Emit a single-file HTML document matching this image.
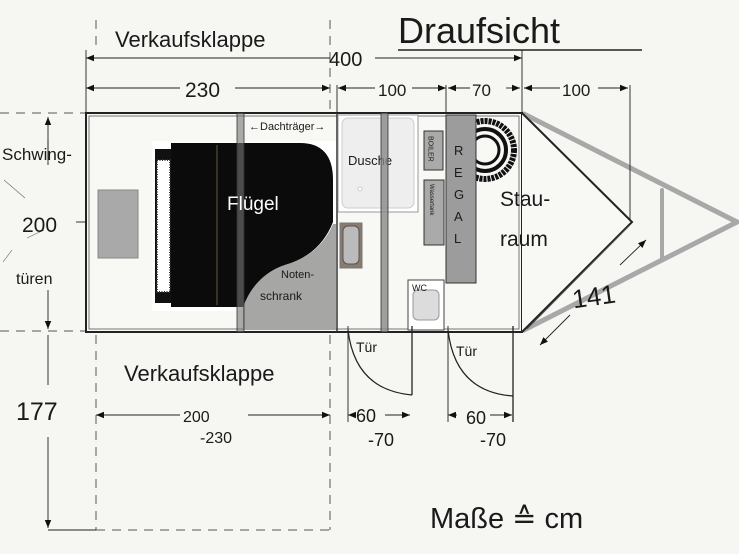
<!DOCTYPE html>
<html><head><meta charset="utf-8"><style>
html,body{margin:0;padding:0;background:#f6f6f2;}
svg{display:block}
text{font-family:"Liberation Sans",sans-serif;fill:#1a1a1a;}
</style></head><body>
<svg width="739" height="554" viewBox="0 0 739 554" xmlns="http://www.w3.org/2000/svg">
<defs>
<marker id="a" viewBox="0 0 10 10" refX="10" refY="5" markerWidth="9" markerHeight="9" orient="auto-start-reverse"><path d="M0,1 L10,5 L0,9 z" fill="#111"/></marker>
</defs>
<rect width="739" height="554" fill="#f6f6f2"/>
<g stroke="#a8a8a8" stroke-width="5" fill="none" stroke-linecap="round">
<line x1="524" y1="114" x2="737" y2="222"/>
<line x1="524" y1="330" x2="737" y2="222"/>
<line x1="662" y1="190" x2="662" y2="260" stroke-width="4"/>
</g>
<g stroke="#555" stroke-width="1" stroke-dasharray="9,7" fill="none">
<line x1="0" y1="113" x2="86" y2="113"/>
<line x1="0" y1="331" x2="86" y2="331"/>
<line x1="96" y1="335" x2="96" y2="530"/>
<line x1="330" y1="335" x2="330" y2="530"/>
<line x1="96" y1="530" x2="330" y2="530"/>
<line x1="96" y1="20" x2="96" y2="50"/>
<line x1="330" y1="20" x2="330" y2="110"/>
</g>
<rect x="86" y="113" width="436" height="219" fill="#f8f8f5" stroke="#222" stroke-width="2"/>
<rect x="89" y="116" width="430" height="213" fill="none" stroke="#555" stroke-width="0.8"/>
<path d="M522,113 L632,222 L522,332" fill="#f8f8f5" stroke="#222" stroke-width="2"/>
<path d="M527,329 L629,226" stroke="#555" stroke-width="1" fill="none"/>
<rect x="98" y="190" width="40" height="68" fill="#a9a9a9" stroke="#888"/>
<rect x="152" y="141" width="186" height="170" fill="#fff"/>
<rect x="155" y="149" width="17" height="154" fill="#111"/>
<rect x="157" y="160" width="13" height="132" fill="#fff" stroke="#333" stroke-width="2" stroke-dasharray="1,1.5"/>
<path d="M171,143 L300,143 Q333,143 333,180 L333,222 Q320,255 285,265 Q255,275 245,307 L171,307 z" fill="#0b0b0b"/>
<line x1="217" y1="145" x2="217" y2="305" stroke="#8a7a60" stroke-width="0.7"/>
<path d="M333,224 L336,224 L336,330 L243,330 L243,307 Q255,275 285,265 Q320,255 333,224 z" fill="#a6a6a4"/>
<text x="281" y="278" font-size="11">Noten-</text>
<text x="260" y="300" font-size="12">schrank</text>
<rect x="237" y="113" width="7" height="219" fill="#777" fill-opacity="0.6" stroke="#333" stroke-width="0.8"/>
<text x="227" y="210" font-size="19" style="fill:#fff">Flügel</text>
<line x1="337" y1="113" x2="337" y2="332" stroke="#333" stroke-width="1.5"/>
<rect x="338" y="115" width="80" height="97" fill="#fff" stroke="#999"/>
<rect x="342" y="118" width="72" height="90" rx="6" fill="#eeeeee" stroke="#ccc"/>
<circle cx="360" cy="189" r="2" fill="#fff" stroke="#ccc"/>
<text x="348" y="165" font-size="13">Dusche</text>
<rect x="381" y="113" width="7" height="219" fill="#888" fill-opacity="0.8" stroke="#333" stroke-width="0.8"/>
<rect x="340" y="223" width="22" height="45" fill="#8a7a70" stroke="#777"/>
<rect x="343" y="226" width="16" height="38" rx="5" fill="#bbb" stroke="#555"/>
<circle cx="485" cy="150" r="29" fill="none" stroke="#111" stroke-width="6" stroke-dasharray="3,1"/>
<circle cx="485" cy="150" r="21" fill="none" stroke="#111" stroke-width="4"/>
<circle cx="485" cy="150" r="14" fill="#f8f8f5" stroke="#111" stroke-width="3"/>
<rect x="424" y="131" width="19" height="39" fill="#aaa" stroke="#333"/>
<text x="430" y="136" font-size="7" writing-mode="tb">BOILER</text>
<rect x="424" y="180" width="20" height="65" fill="#aaa" stroke="#333"/>
<text x="431" y="184" font-size="6" writing-mode="tb">Wassertank</text>
<rect x="446" y="115" width="30" height="168" fill="#9c9c9c" stroke="#333"/>
<text x="454" y="155" font-size="13">R</text><text x="454" y="177" font-size="13">E</text><text x="454" y="199" font-size="13">G</text><text x="454" y="221" font-size="13">A</text><text x="454" y="243" font-size="13">L</text>
<rect x="408" y="280" width="36" height="50" fill="#fff" stroke="#444"/>
<rect x="413" y="290" width="26" height="30" rx="5" fill="#dcdcdc" stroke="#999"/>
<text x="412" y="291" font-size="9">WC</text>
<text x="500" y="206" font-size="21">Stau-</text>
<text x="500" y="246" font-size="21">raum</text>
<text x="249" y="130" font-size="11" fill="#333">←Dachträger→</text>
<g stroke="#222" stroke-width="0.9" fill="none">
<line x1="86" y1="58" x2="330" y2="58" marker-start="url(#a)"/>
<line x1="375" y1="58" x2="522" y2="58" marker-end="url(#a)"/>
<line x1="86" y1="88" x2="180" y2="88" marker-start="url(#a)"/>
<line x1="235" y1="88" x2="330" y2="88" marker-end="url(#a)"/>
<line x1="338" y1="88" x2="375" y2="88" marker-start="url(#a)"/>
<line x1="412" y1="88" x2="446" y2="88" marker-end="url(#a)"/>
<line x1="448" y1="88" x2="470" y2="88" marker-start="url(#a)"/>
<line x1="506" y1="88" x2="520" y2="88" marker-end="url(#a)"/>
<line x1="524" y1="88" x2="560" y2="88" marker-start="url(#a)"/>
<line x1="598" y1="88" x2="628" y2="88" marker-end="url(#a)"/>
<line x1="86" y1="50" x2="86" y2="113"/>
<line x1="337" y1="85" x2="337" y2="113"/>
<line x1="446" y1="85" x2="446" y2="113"/>
<line x1="522" y1="50" x2="522" y2="113"/>
<line x1="630" y1="85" x2="630" y2="220"/>
<line x1="398" y1="50" x2="642" y2="50" stroke-width="1.6"/>
<line x1="620" y1="265" x2="646" y2="240" marker-end="url(#a)"/>
<line x1="570" y1="315" x2="540" y2="345" marker-end="url(#a)"/>
<line x1="48" y1="165" x2="48" y2="117" marker-end="url(#a)"/>
<line x1="48" y1="290" x2="48" y2="329" marker-end="url(#a)"/>
<line x1="48" y1="140" x2="48" y2="160"/>
<line x1="48" y1="335" x2="48" y2="385"/>
<line x1="48" y1="437" x2="48" y2="528" marker-end="url(#a)"/>
<line x1="48" y1="530" x2="96" y2="530"/>
<line x1="76" y1="222" x2="86" y2="222"/>
<line x1="4" y1="180" x2="25" y2="198" stroke="#666" stroke-width="0.6"/>
<line x1="27" y1="238" x2="44" y2="230" stroke="#666" stroke-width="0.6"/>
<line x1="12" y1="250" x2="3" y2="262" stroke="#666" stroke-width="0.6"/>
<line x1="96" y1="415" x2="180" y2="415" marker-start="url(#a)"/>
<line x1="248" y1="415" x2="330" y2="415" marker-end="url(#a)"/>
<line x1="348" y1="415" x2="355" y2="415" marker-start="url(#a)"/>
<line x1="385" y1="415" x2="410" y2="415" marker-end="url(#a)"/>
<line x1="448" y1="415" x2="457" y2="415" marker-start="url(#a)"/>
<line x1="490" y1="415" x2="512" y2="415" marker-end="url(#a)"/>
<line x1="348" y1="326" x2="348" y2="422"/>
<line x1="412" y1="326" x2="412" y2="395" stroke-width="1.3"/>
<path d="M348,330 Q355,390 412,395" stroke-width="1.2"/>
<line x1="448" y1="326" x2="448" y2="422"/>
<line x1="513" y1="326" x2="513" y2="422" stroke-width="1.3"/>
<path d="M448,330 Q455,392 513,396" stroke-width="1.2"/>
</g>
<text x="115" y="47" font-size="22">Verkaufsklappe</text>
<text x="329" y="66" font-size="20">400</text>
<text x="185" y="97" font-size="21">230</text>
<text x="378" y="96" font-size="17">100</text>
<text x="472" y="96" font-size="17">70</text>
<text x="562" y="96" font-size="17">100</text>
<text x="398" y="43" font-size="36">Draufsicht</text>
<text x="572" y="306" font-size="26" transform="rotate(-8 590 296)">141</text>
<text x="2" y="160" font-size="17">Schwing-</text>
<text x="22" y="232" font-size="21">200</text>
<text x="16" y="284" font-size="16">türen</text>
<text x="16" y="420" font-size="25">177</text>
<text x="124" y="381" font-size="22">Verkaufsklappe</text>
<text x="183" y="422" font-size="16">200</text>
<text x="200" y="443" font-size="16">-230</text>
<text x="356" y="352" font-size="14">Tür</text>
<text x="456" y="356" font-size="14">Tür</text>
<text x="356" y="422" font-size="18">60</text>
<text x="368" y="446" font-size="18">-70</text>
<text x="466" y="424" font-size="18">60</text>
<text x="480" y="446" font-size="18">-70</text>
<text x="430" y="528" font-size="29">Maße ≙ cm</text>
</svg>
</body></html>
